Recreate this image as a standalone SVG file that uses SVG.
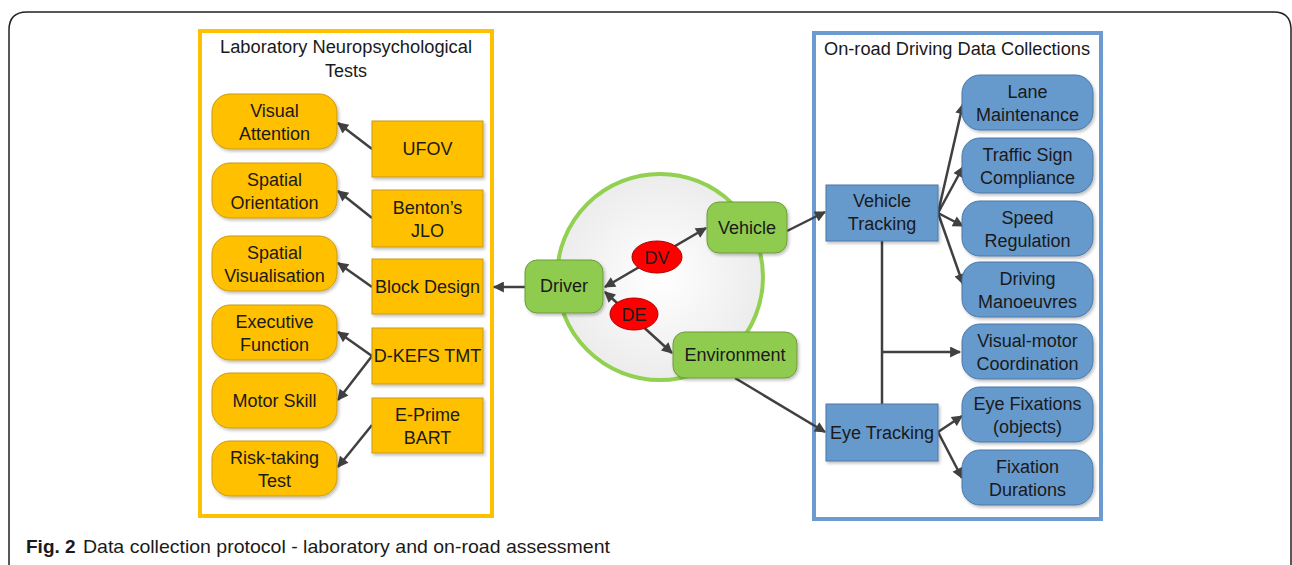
<svg xmlns="http://www.w3.org/2000/svg" width="1292" height="565" viewBox="0 0 1292 565">
<defs>
<marker id="ah" viewBox="0 0 10 10" refX="9" refY="5" markerWidth="13" markerHeight="11" markerUnits="userSpaceOnUse" orient="auto-start-reverse"><path d="M0,0 L10,5 L0,10 z" fill="#404040"/></marker>
<filter id="sh" x="-10%" y="-10%" width="125%" height="130%"><feDropShadow dx="1.5" dy="2" stdDeviation="1.5" flood-color="#000" flood-opacity="0.25"/></filter>
<radialGradient id="cg" cx="0.5" cy="0.5" r="0.5"><stop offset="0" stop-color="#ffffff"/><stop offset="1" stop-color="#ececec"/></radialGradient>
<style>
text{font-family:"Liberation Sans",Arial,sans-serif;fill:#1a1a1a;text-anchor:middle;font-size:18px}
.y{fill:#FFC000;stroke:#C99A14;stroke-width:1;filter:url(#sh)}
.b{fill:#6699CC;stroke:#4A78A8;stroke-width:1;filter:url(#sh)}
.g{fill:#8FCB50;stroke:#6E9B3C;stroke-width:1;filter:url(#sh)}
.r{fill:#FF0000;stroke:#B00000;stroke-width:1}
.c{fill:none;stroke:#404040;stroke-width:2.5;marker-end:url(#ah)}
.cd{fill:none;stroke:#404040;stroke-width:2.5;marker-start:url(#ah);marker-end:url(#ah)}
.p{fill:none;stroke:#404040;stroke-width:2.5}
.title{font-size:18px}
.cap{text-anchor:start;font-size:19px}
</style>
</defs>
<rect width="1292" height="565" fill="#fff"/>
<path d="M9,565 L9,30 Q9,12 27,12 L1274,12 Q1290,12 1291,28 L1291,565" fill="none" stroke="#222" stroke-width="1.5"/>

<g id="lab-panel">
<rect x="200" y="31" width="292" height="485" fill="#fff" stroke="#FFC000" stroke-width="4"/>
<text class="title" x="346" y="53" textLength="252" lengthAdjust="spacingAndGlyphs">Laboratory Neuropsychological</text>
<text class="title" x="346" y="77">Tests</text>
</g>
<g id="road-panel">
<rect x="814" y="33" width="287" height="486" fill="#fff" stroke="#6C9BD2" stroke-width="4"/>
<text class="title" x="957" y="55" textLength="266" lengthAdjust="spacingAndGlyphs">On-road Driving Data Collections</text>
</g>

<g id="circle"><circle cx="660" cy="277" r="103" fill="url(#cg)" stroke="#92D050" stroke-width="4"/></g>

<g id="connectors">
<path class="c" d="M372,149 L338,123"/>
<path class="c" d="M372,218 L338,191"/>
<path class="c" d="M372,287 L338,263"/>
<path class="c" d="M372,356 L338,332"/>
<path class="c" d="M372,356 L338,400"/>
<path class="c" d="M372,425 L338,467"/>
<path class="c" d="M525,287 L494,287"/>
<path class="cd" d="M605,287 L706,228"/>
<path class="cd" d="M605,292 L672,353"/>
<path class="c" d="M787,231 L825,212"/>
<path class="c" d="M735,378 L825,432"/>
<path class="c" d="M938,213 L963,104"/>
<path class="c" d="M938,213 L963,167"/>
<path class="c" d="M938,213 L963,226"/>
<path class="c" d="M938,213 L963,284"/>
<path class="p" d="M882,241 L882,404"/>
<path class="c" d="M882,352 L960,352"/>
<path class="c" d="M938,432 L962,416"/>
<path class="c" d="M938,432 L962,478"/>
</g>

<g id="visual-attention"><rect class="y" x="212" y="94" width="125" height="55" rx="18"/><text x="274.5" y="117">Visual</text><text x="274.5" y="140">Attention</text></g>
<g id="spatial-orientation"><rect class="y" x="212" y="163" width="125" height="55" rx="18"/><text x="274.5" y="186">Spatial</text><text x="274.5" y="209">Orientation</text></g>
<g id="spatial-visualisation"><rect class="y" x="212" y="236" width="125" height="55" rx="18"/><text x="274.5" y="259">Spatial</text><text x="274.5" y="282">Visualisation</text></g>
<g id="executive-function"><rect class="y" x="212" y="305" width="125" height="55" rx="18"/><text x="274.5" y="328">Executive</text><text x="274.5" y="351">Function</text></g>
<g id="motor-skill"><rect class="y" x="212" y="373" width="125" height="55" rx="18"/><text x="274.5" y="407">Motor Skill</text></g>
<g id="risk-taking"><rect class="y" x="212" y="441" width="125" height="55" rx="18"/><text x="274.5" y="464">Risk-taking</text><text x="274.5" y="487">Test</text></g>

<g id="ufov"><rect class="y" x="372" y="121" width="111" height="56"/><text x="427.5" y="155">UFOV</text></g>
<g id="benton"><rect class="y" x="372" y="190" width="111" height="57"/><text x="427.5" y="214">Benton’s</text><text x="427.5" y="237">JLO</text></g>
<g id="block-design"><rect class="y" x="372" y="259" width="111" height="55"/><text x="427.5" y="293">Block Design</text></g>
<g id="dkefs"><rect class="y" x="372" y="328" width="111" height="56"/><text x="427.5" y="362">D-KEFS TMT</text></g>
<g id="eprime"><rect class="y" x="372" y="398" width="111" height="55"/><text x="427.5" y="421">E-Prime</text><text x="427.5" y="444">BART</text></g>

<g id="driver"><rect class="g" x="525" y="260" width="78" height="53" rx="12"/><text x="564" y="292">Driver</text></g>
<g id="vehicle"><rect class="g" x="707" y="202" width="80" height="51" rx="12"/><text x="747" y="234">Vehicle</text></g>
<g id="environment"><rect class="g" x="673" y="332" width="124" height="46" rx="12"/><text x="735" y="361">Environment</text></g>
<g id="dv"><ellipse class="r" cx="657" cy="257" rx="25" ry="16"/><text x="657" y="264">DV</text></g>
<g id="de"><ellipse class="r" cx="634" cy="314" rx="24" ry="16"/><text x="634" y="321">DE</text></g>

<g id="vehicle-tracking"><rect class="b" x="826" y="185" width="112" height="56"/><text x="882" y="207">Vehicle</text><text x="882" y="230">Tracking</text></g>
<g id="eye-tracking"><rect class="b" x="826" y="404" width="112" height="57"/><text x="882" y="439">Eye Tracking</text></g>

<g id="lane"><rect class="b" x="962" y="75" width="131" height="55" rx="18"/><text x="1027.5" y="98">Lane</text><text x="1027.5" y="121">Maintenance</text></g>
<g id="traffic"><rect class="b" x="962" y="138" width="131" height="55" rx="18"/><text x="1027.5" y="161">Traffic Sign</text><text x="1027.5" y="184">Compliance</text></g>
<g id="speed"><rect class="b" x="962" y="201" width="131" height="55" rx="18"/><text x="1027.5" y="224">Speed</text><text x="1027.5" y="247">Regulation</text></g>
<g id="manoeuvres"><rect class="b" x="962" y="262" width="131" height="55" rx="18"/><text x="1027.5" y="285">Driving</text><text x="1027.5" y="308">Manoeuvres</text></g>
<g id="visual-motor"><rect class="b" x="962" y="324" width="131" height="55" rx="18"/><text x="1027.5" y="347">Visual-motor</text><text x="1027.5" y="370">Coordination</text></g>
<g id="eye-fixations"><rect class="b" x="962" y="387" width="131" height="55" rx="18"/><text x="1027.5" y="410">Eye Fixations</text><text x="1027.5" y="433">(objects)</text></g>
<g id="fixation-durations"><rect class="b" x="962" y="450" width="131" height="55" rx="18"/><text x="1027.5" y="473">Fixation</text><text x="1027.5" y="496">Durations</text></g>

<g id="caption">
<text class="cap" x="26" y="553" font-weight="bold">Fig. 2</text>
<text class="cap" x="83" y="553" textLength="527" lengthAdjust="spacingAndGlyphs">Data collection protocol - laboratory and on-road assessment</text>
</g>
</svg>
